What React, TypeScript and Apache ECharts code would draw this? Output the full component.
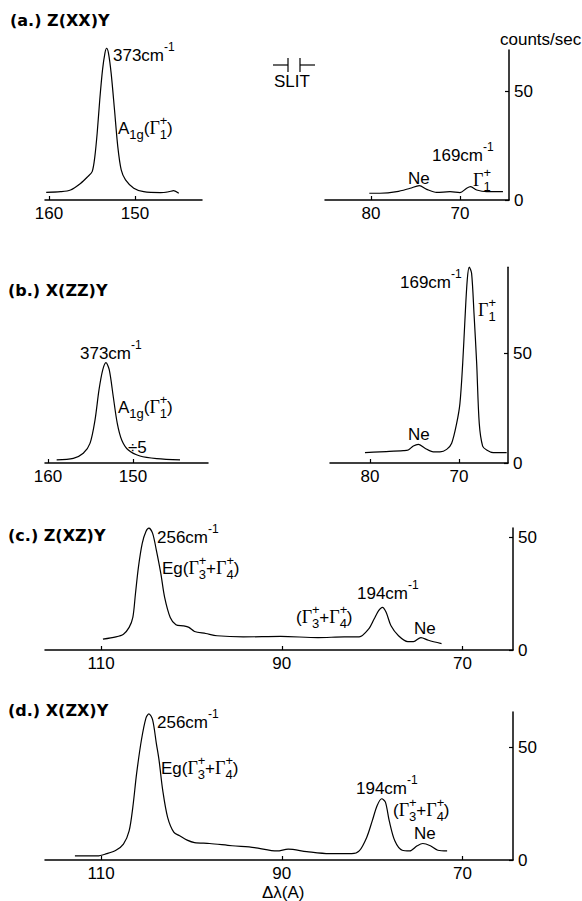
import React, { useEffect, useRef } from 'react';
import * as echarts from 'echarts';

// ---- Data: Raman shift position Δλ (Å) and intensity (counts/sec) ----
const aLeftShift = [160.33, 158.66, 157.5, 156.34, 155.5, 154.98, 154.67, 154.4, 154.1, 153.78, 153.5, 153.3, 153.08, 152.77, 152.38, 152.0, 151.6, 151.1, 150.14, 148.98, 147.03, 146.06, 145.5, 144.9];
const aLeftCounts = [3.5, 3.8, 4.6, 7.6, 10.7, 13, 19.9, 30.6, 45.9, 59.6, 67.3, 69.6, 67.3, 58.1, 41.3, 24.5, 13.8, 9.2, 5.4, 3.8, 3.4, 3.8, 4.3, 3.1];

const aRightShift = [80.19, 78.99, 77.1, 75.6, 74.57, 73.74, 72.62, 71.12, 70.0, 69.25, 68.8, 68.12, 67.0, 65.17];
const aRightCounts = [3.1, 3.1, 3.8, 5.4, 6.6, 4.9, 3.5, 3.8, 3.4, 5.4, 6.1, 4.6, 3.8, 3.8];

const bLeftShift = [158.98, 157.02, 155.85, 155.06, 154.47, 154.0, 153.56, 153.18, 152.79, 152.32, 151.85, 151.33, 150.55, 149.18, 147.2, 144.47];
const bLeftCounts = [1.4, 2.1, 4.4, 8.9, 19.5, 33.2, 42.3, 45.6, 42.3, 30.1, 18, 10.5, 5.9, 3.2, 2.0, 1.4];

const bRightShift = [80.56, 78.88, 76.26, 75.7, 75.13, 74.57, 73.82, 72.88, 72.13, 71.38, 70.82, 70.26, 69.89, 69.58, 69.33, 69.07, 68.84, 68.58, 68.31, 68.01, 67.72, 67.34, 66.89, 66.15, 64.64];
const bRightCounts = [4.7, 5.1, 5.6, 5.9, 7.7, 8.5, 6.7, 5.1, 5.1, 6.2, 9, 18, 27.1, 45.3, 65, 83.2, 89, 86.2, 68, 45.3, 18, 7.7, 5.9, 4.7, 4.7];

const cShift = [109.79, 108.35, 107.52, 106.89, 106.48, 106.19, 105.86, 105.44, 105.03, 104.7, 104.29, 103.88, 103.38, 102.96, 102.34, 101.71, 100.89, 100.27, 99.65, 98.41, 97.17, 94.26, 90.12, 85.98, 83.08, 81.43, 80.4, 79.78, 79.28, 78.86, 78.45, 77.91, 77.08, 76.05, 75.43, 74.6, 73.77, 72.32];
const cCounts = [4.8, 5.8, 7, 10, 14.4, 24.9, 36.7, 47.2, 52.4, 53.9, 51.6, 44.2, 33.8, 23.3, 14.4, 11.2, 10.7, 10, 8.2, 7.3, 6.3, 5.8, 6, 5.5, 5.8, 5.8, 9.2, 13.7, 17.4, 18.9, 16.7, 10.7, 6.3, 3.7, 3.7, 5.5, 4.3, 2.8];

const dShift = [112.89, 110.41, 109.38, 108.35, 107.52, 106.89, 106.48, 106.06, 105.53, 105.03, 104.7, 104.29, 103.88, 103.58, 103.17, 102.63, 101.93, 101.3, 100.47, 99.65, 97.99, 95.5, 93.02, 90.53, 89.29, 87.23, 84.74, 82.26, 81.43, 80.6, 79.98, 79.44, 78.94, 78.53, 78.11, 77.49, 76.67, 75.84, 75.01, 74.39, 73.56, 72.73, 71.7];
const dCounts = [1.8, 1.8, 2.8, 4.3, 7, 12.9, 23.4, 38.3, 53.1, 62.8, 64.7, 62, 51.6, 44.2, 30.8, 18.9, 12.2, 10.7, 8.8, 7.7, 7.3, 6.3, 5.5, 4, 4.8, 3.7, 2.8, 2.8, 4, 10, 17.4, 24.1, 27.1, 25.6, 17.4, 8.5, 4.3, 4, 6.3, 7.3, 6.3, 4.3, 4];

// tick labels
const ticksHighA = [150, 160];
const ticksLowA = [70, 80];
const ticksWide = [70, 90, 110];
const countTicks = [0, 50];

const SANS = '"Liberation Sans", Arial, Helvetica, sans-serif';
const SERIF = '"Liberation Serif", "Times New Roman", serif';
const TITLE = '"DejaVu Sans", sans-serif';

type Seg = { t: string; s?: number; dy?: number; serif?: boolean; keep?: boolean };

let mctx: CanvasRenderingContext2D | null = null;
function measure(t: string, size: number, fam: string): number {
  if (!mctx) mctx = document.createElement('canvas').getContext('2d');
  if (!mctx) return t.length * size * 0.55;
  mctx.font = `${size}px ${fam}`;
  return mctx.measureText(t).width;
}

function rich(x: number, y: number, segs: Seg[]): any[] {
  const out: any[] = [];
  let cx = x;
  for (const g of segs) {
    const size = g.s ?? 17;
    const fam = g.serif ? SERIF : SANS;
    out.push({
      type: 'text', x: cx, y: y + (g.dy ?? 0), silent: true,
      style: { text: g.t, fontSize: size, fontFamily: fam, fill: '#000', align: 'left', verticalAlign: 'middle' },
    });
    if (!g.keep) cx += measure(g.t, size, fam);
  }
  return out;
}

const cm = (n: number): Seg[] => [{ t: `${n}cm` }, { t: '-1', s: 12, dy: -8 }];
const gam = (i: number): Seg[] => [
  { t: 'Γ', serif: true, s: 18 },
  { t: '+', s: 13, dy: -8, keep: true },
  { t: String(i), s: 13, dy: 6 },
];
const a1g: Seg[] = [{ t: 'A' }, { t: '1g', s: 13, dy: 6 }, { t: '(' }, ...gam(1), { t: ')' }];
const g34: Seg[] = [{ t: '(' }, ...gam(3), { t: '+' }, ...gam(4), { t: ')' }];
const eg: Seg[] = [{ t: 'Eg' }, ...g34];

function title(x: number, y: number, text: string) {
  return {
    type: 'text', x, y, silent: true,
    style: { text, fontSize: 16, fontWeight: 'bold', fontFamily: TITLE, fill: '#000', verticalAlign: 'middle' },
  };
}
function seg(x1: number, y1: number, x2: number, y2: number) {
  return { type: 'line', silent: true, shape: { x1, y1, x2, y2 }, style: { stroke: '#000', lineWidth: 1.2 } };
}

function xAx(gridIndex: number, min: number, max: number, ticks: number[]) {
  return {
    type: 'value', gridIndex, min, max, inverse: true,
    axisLine: { show: true, onZero: false, lineStyle: { color: '#000', width: 1.5 } },
    axisTick: { show: true, inside: true, length: 4, customValues: ticks, lineStyle: { color: '#000', width: 1.2 } },
    axisLabel: { show: true, customValues: ticks, color: '#000', fontSize: 17, fontFamily: SANS, margin: 5 },
    splitLine: { show: false },
  };
}
function yAx(gridIndex: number, max: number, visible: boolean) {
  return {
    type: 'value', gridIndex, min: 0, max, position: 'right', show: visible,
    axisLine: { show: true, lineStyle: { color: '#000', width: 1.5 } },
    axisTick: { show: true, inside: true, length: 4, customValues: countTicks, lineStyle: { color: '#000', width: 1.2 } },
    axisLabel: { show: true, customValues: countTicks, color: '#000', fontSize: 17, fontFamily: SANS, margin: 5 },
    splitLine: { show: false },
  };
}
function zip(xs: number[], ys: number[]) {
  return xs.map((x, i) => [x, ys[i]]);
}
function line(i: number, xs: number[], ys: number[]) {
  return {
    type: 'line', xAxisIndex: i, yAxisIndex: i, data: zip(xs, ys), showSymbol: false, smooth: 0.3,
    clip: false, silent: true, lineStyle: { color: '#000', width: 1.2 }, itemStyle: { color: '#000' },
  };
}

export default function App() {
  const ref = useRef<HTMLDivElement>(null);
  useEffect(() => {
    if (!ref.current) return;
    const chart = echarts.init(ref.current, undefined, { renderer: 'svg' });
    const grids = [
      { left: 45, width: 157, top: 200 - 70 * 2.18, height: 70 * 2.18 },   // a left
      { left: 325, width: 184, top: 50, height: 150 },                    // a right
      { left: 45, width: 163, top: 353, height: 110 },                    // b left
      { left: 330, width: 178, top: 463 - 89 * 2.2, height: 89 * 2.2 },   // b right
      { left: 45, width: 468, top: 528, height: 122 },                    // c
      { left: 45, width: 468, top: 712, height: 148 },                    // d
    ];
    const graphics: any[] = [
      title(10, 20, '(a.) Z(XX)Y'),
      title(8, 290, '(b.) X(ZZ)Y'),
      title(8, 535, '(c.) Z(XZ)Y'),
      title(8, 710, '(d.) X(ZX)Y'),
      { type: 'text', x: 500, y: 39, silent: true, style: { text: 'counts/sec', fontSize: 17, fontFamily: SANS, fill: '#000', verticalAlign: 'middle' } },
      { type: 'text', x: 274, y: 81, silent: true, style: { text: 'SLIT', fontSize: 17, fontFamily: SANS, fill: '#000', verticalAlign: 'middle' } },
      seg(273, 65, 288, 65), seg(288, 58, 288, 72), seg(300, 58, 300, 72), seg(300, 65, 315, 65),
      ...rich(113, 55, cm(373)),
      ...rich(118, 128, a1g),
      ...rich(432, 155, cm(169)),
      ...rich(408, 178, [{ t: 'Ne' }]),
      ...rich(473, 180, gam(1)),
      ...rich(80, 353, cm(373)),
      ...rich(118, 407, a1g),
      ...rich(128, 447, [{ t: '÷5' }]),
      ...rich(400, 282, cm(169)),
      ...rich(478, 310, gam(1)),
      ...rich(408, 434, [{ t: 'Ne' }]),
      ...rich(157, 537, cm(256)),
      ...rich(162, 568, eg),
      ...rich(357, 593, cm(194)),
      ...rich(296, 617, g34),
      ...rich(414, 628, [{ t: 'Ne' }]),
      ...rich(157, 722, cm(256)),
      ...rich(161, 768, eg),
      ...rich(356, 788, cm(194)),
      ...rich(393, 810, g34),
      ...rich(414, 833, [{ t: 'Ne' }]),
      ...rich(262, 892, [{ t: 'Δλ(A)' }]),
    ];
    chart.setOption({
      animation: false,
      backgroundColor: '#fff',
      grid: grids,
      xAxis: [
        xAx(0, 142.2, 160.47, ticksHighA),
        xAx(1, 64.49, 85.17, ticksLowA),
        xAx(2, 141.18, 160.35, ticksHighA),
        xAx(3, 64.49, 84.49, ticksLowA),
        xAx(4, 64.41, 116.2, ticksWide),
        xAx(5, 64.41, 116.2, ticksWide),
      ],
      yAxis: [
        yAx(0, 70, false),
        yAx(1, 150 / 2.18, true),
        yAx(2, 50, false),
        yAx(3, 89, true),
        yAx(4, 122 / 2.26, true),
        yAx(5, 148 / 2.26, true),
      ],
      series: [
        line(0, aLeftShift, aLeftCounts),
        line(1, aRightShift, aRightCounts),
        line(2, bLeftShift, bLeftCounts),
        line(3, bRightShift, bRightCounts),
        line(4, cShift, cCounts),
        line(5, dShift, dCounts),
      ],
      graphic: graphics,
    });
    return () => chart.dispose();
  }, []);
  return <div ref={ref} style={{ position: 'absolute', left: 0, top: 0, width: 582, height: 901 }} />;
}
